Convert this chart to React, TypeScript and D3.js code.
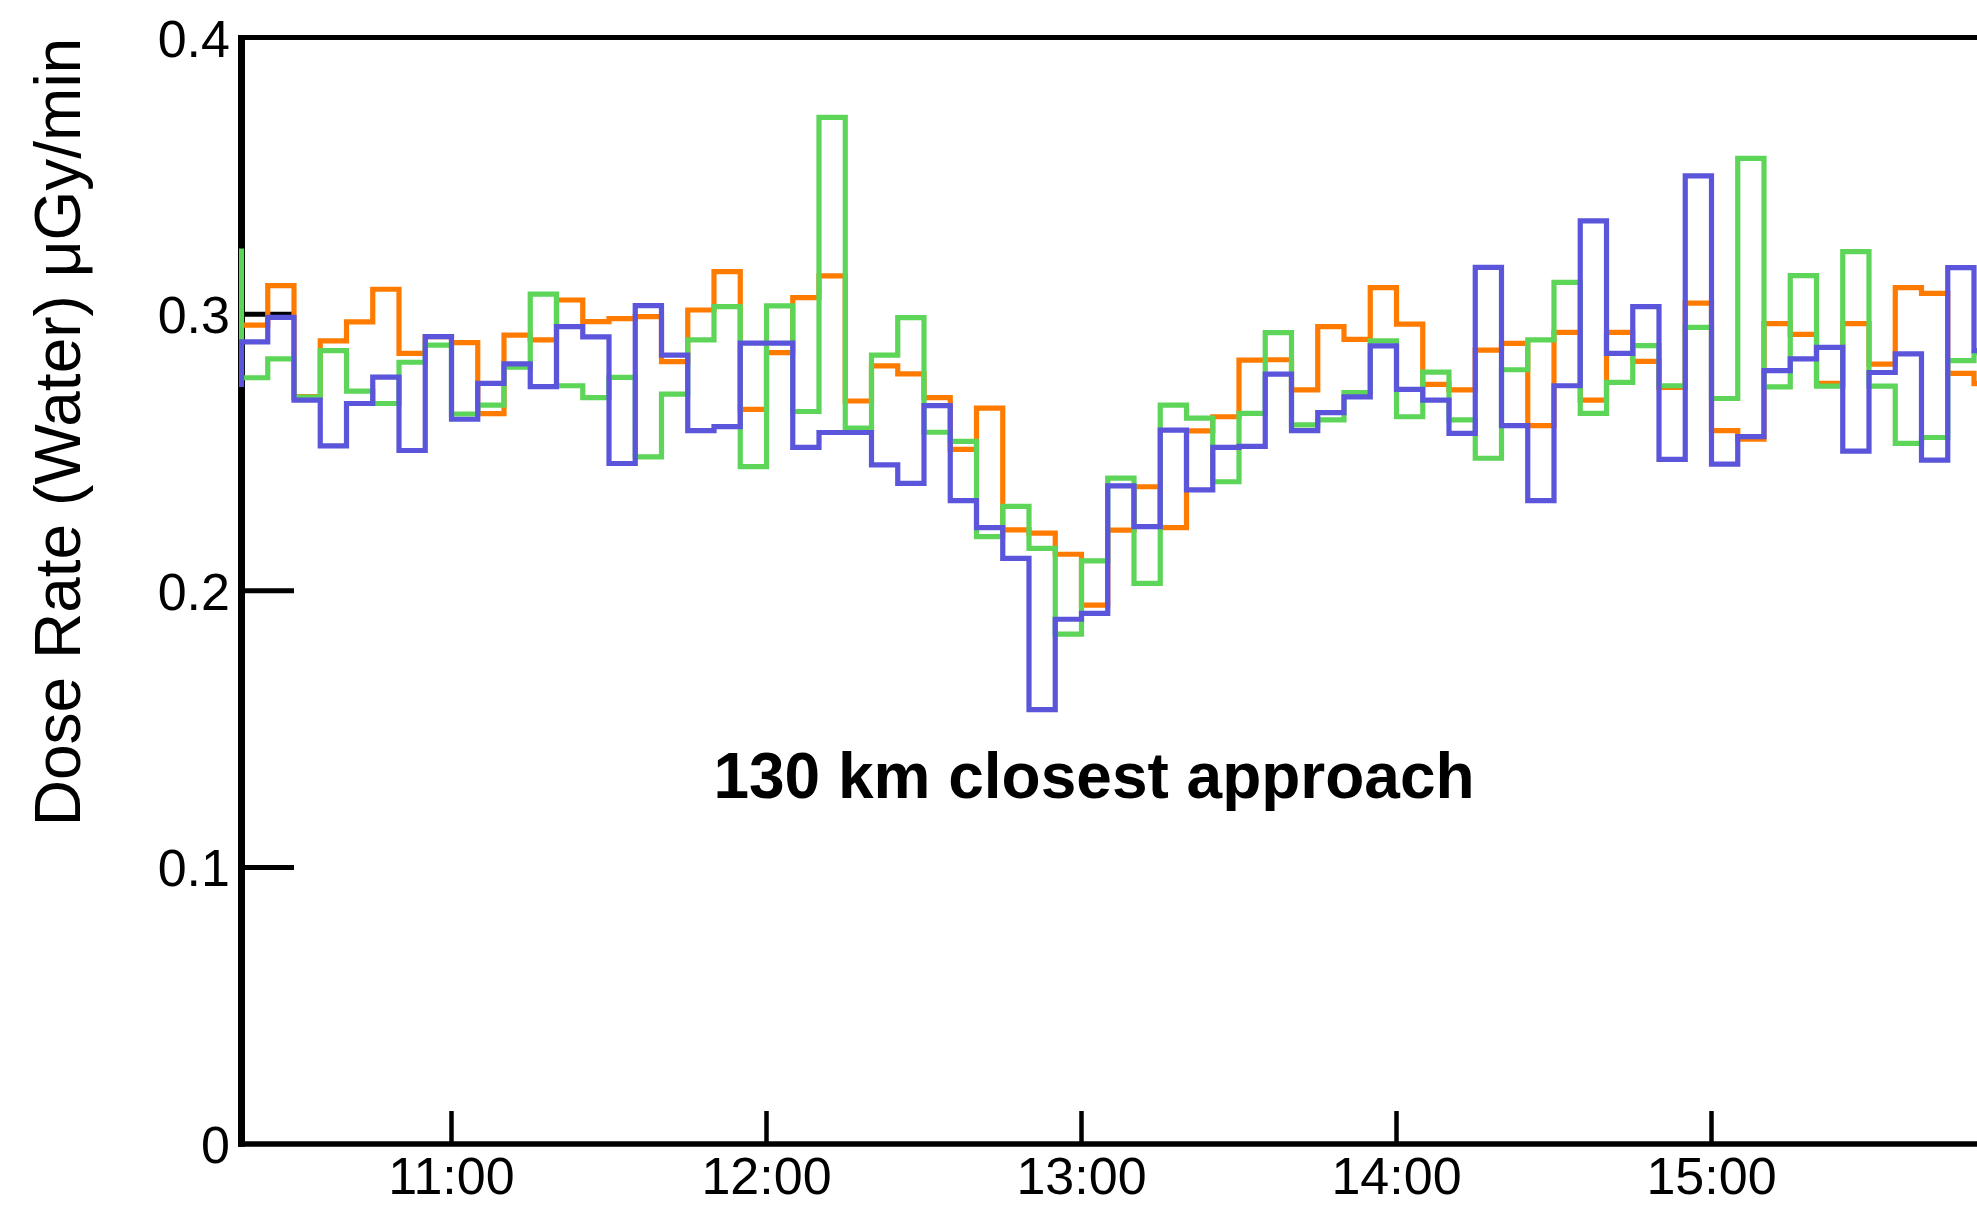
import React from "react";
import * as d3 from "d3";

// 5-minute bins starting at 10:15 (first bin lies just left of the axis)
const binStartMinutes = 615; // 10:15
const binMinutes = 5;

const orangeValues = [
  0.296, 0.296, 0.3103, 0.2702, 0.2903, 0.2972, 0.309, 0.2858, 0.2919, 0.2897,
  0.264, 0.2924, 0.2907, 0.3051, 0.2973, 0.2984, 0.2991, 0.2828, 0.3015, 0.3154,
  0.2656, 0.2861, 0.306, 0.3138, 0.2686, 0.2813, 0.2784, 0.2698, 0.2511, 0.266,
  0.222, 0.2208, 0.2132, 0.1948, 0.2219, 0.2376, 0.2228, 0.2578, 0.2629, 0.2834,
  0.2835, 0.2726, 0.2955, 0.2909, 0.3096, 0.2964, 0.2746, 0.2726, 0.287, 0.2894,
  0.2597, 0.2934, 0.2689, 0.2934, 0.2829, 0.2735, 0.304, 0.2579, 0.2548, 0.2966,
  0.2927, 0.275, 0.2966, 0.2819, 0.3096, 0.3075, 0.2786, 0.2749,
];

const greenValues = [
  0.3228, 0.277, 0.2838, 0.27, 0.2868, 0.2722, 0.2677, 0.2826, 0.2888, 0.2639,
  0.2671, 0.2808, 0.3072, 0.2741, 0.2698, 0.2771, 0.2484, 0.2711, 0.2907, 0.3027,
  0.2449, 0.303, 0.2648, 0.3711, 0.2588, 0.2852, 0.2987, 0.2573, 0.254, 0.2196,
  0.2305, 0.2153, 0.1843, 0.2108, 0.2407, 0.2027, 0.2671, 0.2624, 0.2394, 0.2641,
  0.2933, 0.26, 0.2618, 0.2716, 0.2903, 0.2629, 0.279, 0.2618, 0.2479, 0.2799,
  0.2907, 0.3115, 0.2641, 0.2753, 0.2886, 0.2741, 0.2952, 0.2695, 0.3563, 0.2737,
  0.3139, 0.274, 0.3226, 0.274, 0.2533, 0.2554, 0.2832, 0.286,
];

const blueValues = [
  0.2746, 0.29, 0.2988, 0.2689, 0.2524, 0.2677, 0.2772, 0.2507, 0.2919, 0.262,
  0.275, 0.282, 0.2738, 0.2955, 0.2918, 0.246, 0.3031, 0.2852, 0.2579, 0.2593,
  0.2895, 0.2895, 0.2518, 0.2572, 0.2572, 0.2455, 0.2388, 0.2669, 0.2326, 0.2228,
  0.2117, 0.157, 0.1897, 0.1918, 0.2379, 0.2232, 0.2581, 0.2365, 0.2518, 0.2522,
  0.2783, 0.2579, 0.2644, 0.2701, 0.2885, 0.2728, 0.2689, 0.2569, 0.3169, 0.2597,
  0.2326, 0.2741, 0.3337, 0.2858, 0.3027, 0.2475, 0.35, 0.2458, 0.2557, 0.2796,
  0.2838, 0.288, 0.2505, 0.2789, 0.2856, 0.2472, 0.3168, 0.2868,
];

const xTickMinutes = [660, 720, 780, 840, 900];
const xTickLabels = ["11:00", "12:00", "13:00", "14:00", "15:00"];
const yTickValues = [0, 0.1, 0.2, 0.3, 0.4];
const yTickLabels = ["0", "0.1", "0.2", "0.3", "0.4"];

const series = [
  { name: "orange", values: orangeValues, color: "#FF7B00" },
  { name: "green", values: greenValues, color: "#5DD558" },
  { name: "blue", values: blueValues, color: "#5A55DA" },
];

const W = 1977;
const H = 1205;
const FONT = "'Liberation Sans', Arial, Helvetica, sans-serif";

export default function App() {
  const x0 = 241.5;
  const pxPerMin = 315 / 60;
  const x = d3
    .scaleLinear()
    .domain([620, 960])
    .range([x0, x0 + 340 * pxPerMin]);
  const y = d3.scaleLinear().domain([0, 0.4]).range([1144, 37.5]);

  const line = d3
    .line<[number, number]>()
    .x((d) => x(d[0]))
    .y((d) => y(d[1]))
    .curve(d3.curveStepAfter);

  const pathFor = (vals: number[]) => {
    const pts: [number, number][] = vals.map((v, i) => [
      binStartMinutes + i * binMinutes,
      v,
    ]);
    pts.push([binStartMinutes + vals.length * binMinutes, vals[vals.length - 1]]);
    return line(pts) || "";
  };

  return (
    <div style={{ position: "absolute", left: 0, top: 0, width: W, height: H, overflow: "hidden" }}>
      <svg width={W} height={H} style={{ display: "block", background: "#fff" }}>
        <defs>
          <clipPath id="plotClip">
            <rect x={239} y={0} width={W} height={H} />
          </clipPath>
        </defs>

        {/* frame */}
        <line x1={238} x2={W + 10} y1={y(0.4)} y2={y(0.4)} stroke="#000" strokeWidth={5} />
        <line x1={238} x2={W + 10} y1={y(0)} y2={y(0)} stroke="#000" strokeWidth={5.5} />
        <line x1={x0} x2={x0} y1={y(0.4) - 2.5} y2={y(0) + 2.75} stroke="#000" strokeWidth={7} />

        {/* y ticks */}
        {yTickValues.map((v, i) => (
          <g key={"yt" + i}>
            {v > 0 && v < 0.4 && (
              <line x1={x0} x2={x0 + 52.5} y1={y(v)} y2={y(v)} stroke="#000" strokeWidth={5} />
            )}
            <text
              x={230}
              y={y(v) + 19}
              textAnchor="end"
              fontFamily={FONT}
              fontSize={52}
              fill="#000"
            >
              {yTickLabels[i]}
            </text>
          </g>
        ))}

        {/* x ticks */}
        {xTickMinutes.map((m, i) => (
          <g key={"xt" + i}>
            <line x1={x(m)} x2={x(m)} y1={y(0)} y2={y(0) - 33} stroke="#000" strokeWidth={4.5} />
            <text
              x={x(m)}
              y={1194}
              textAnchor="middle"
              fontFamily={FONT}
              fontSize={52}
              fill="#000"
            >
              {xTickLabels[i]}
            </text>
          </g>
        ))}

        {/* data */}
        <g clipPath="url(#plotClip)">
          {series.map((s) => (
            <path
              key={s.name}
              d={pathFor(s.values)}
              fill="none"
              stroke={s.color}
              strokeWidth={5.2}
              strokeLinejoin="miter"
              strokeLinecap="butt"
            />
          ))}
        </g>

        {/* y axis title */}
        <text
          transform={`translate(80, 432) rotate(-90)`}
          textAnchor="middle"
          fontFamily={FONT}
          fontSize={64}
          fill="#000"
        >
          Dose Rate (Water) μGy/min
        </text>

        {/* annotation */}
        <text
          x={1094}
          y={798}
          textAnchor="middle"
          fontFamily={FONT}
          fontSize={64}
          fontWeight="bold"
          fill="#000"
        >
          130 km closest approach
        </text>
      </svg>
    </div>
  );
}
